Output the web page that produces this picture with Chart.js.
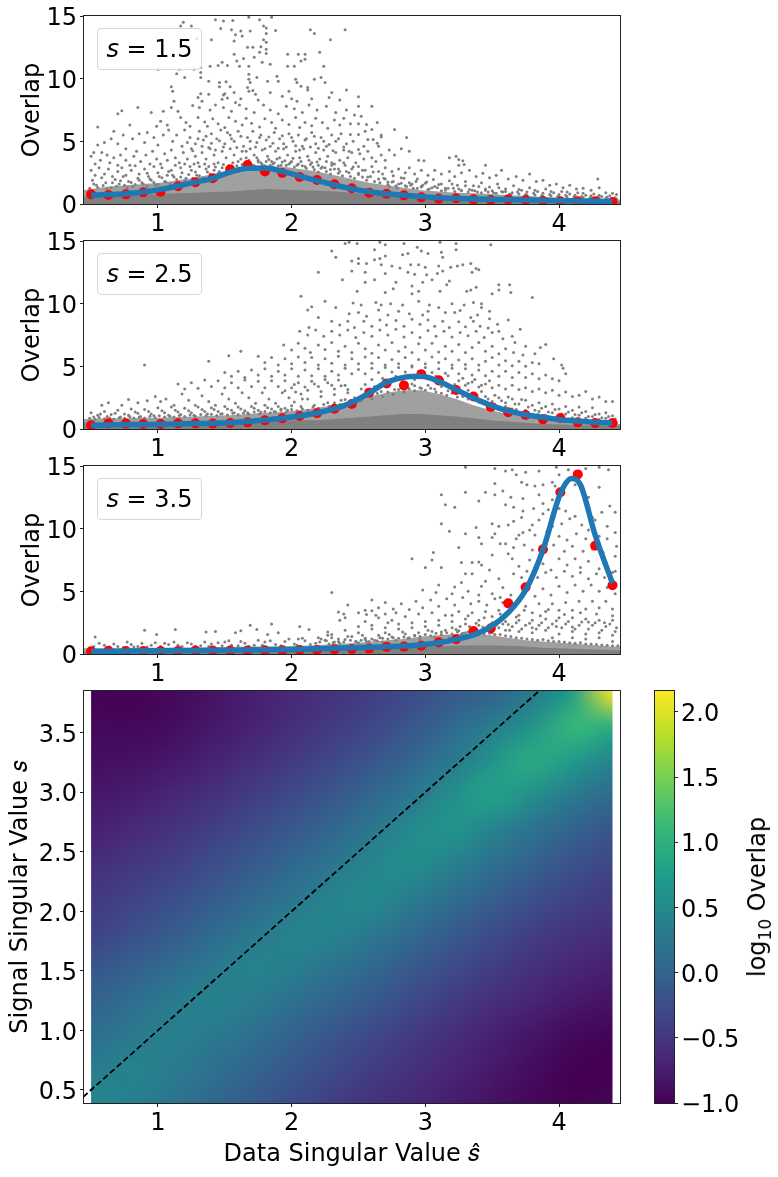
<!DOCTYPE html>
<html>
<head>
<meta charset="utf-8">
<script src="https://cdn.jsdelivr.net/npm/chart.js@4/dist/chart.umd.min.js"></script>
<style>
body { margin: 0; background: white; overflow: hidden; width: 778px; height: 1177px; position: relative; font-family: "DejaVu Sans"; }
canvas { position: absolute; }
.value-box { position: absolute; left: 97px; width: 103px; height: 40px; line-height: 40px; text-align: center; font-size: 24px; border: 1px solid #d6d6d6; border-radius: 4px; background: rgba(255,255,255,0.8); color: black; }
.cbar-label { position: absolute; left: 757px; top: 897px; transform: translate(-50%,-50%) rotate(-90deg); white-space: nowrap; font-size: 24px; color: black; }
.cbar-label sub { font-size: 17px; line-height: 0; }
</style>
</head>
<body>
<canvas id="panel1" width="640" height="244" style="left:0;top:-4px"></canvas>
<canvas id="panel2" width="640" height="244" style="left:0;top:221px"></canvas>
<canvas id="panel3" width="640" height="244" style="left:0;top:446px"></canvas>
<canvas id="heat" width="640" height="506" style="left:0;top:671px"></canvas>
<canvas id="cbar" width="138" height="506" style="left:640px;top:671px"></canvas>
<div class="value-box" style="top:28px"><i>s</i> = 1.5</div>
<div class="value-box" style="top:253px"><i>s</i> = 2.5</div>
<div class="value-box" style="top:478px"><i>s</i> = 3.5</div>
<div class="cbar-label">log<sub>10</sub> Overlap</div>
<script>
const binX = [0.5,0.63,0.76,0.89,1.02,1.15,1.28,1.41,1.54,1.67,1.8,1.93,2.06,2.19,2.32,2.45,2.58,2.71,2.84,2.97,3.1,3.23,3.36,3.49,3.62,3.75,3.88,4.01,4.14,4.27,4.4];

const red1 = [0.77,0.72,0.77,0.93,0.98,1.41,1.73,2.05,2.77,3.11,2.6,2.47,2.15,1.91,1.57,1.25,0.9,0.82,0.69,0.53,0.43,0.45,0.37,0.32,0.37,0.32,0.24,0.21,0.21,0.21,0.16];
const red2 = [0.29,0.45,0.43,0.4,0.4,0.45,0.45,0.43,0.48,0.53,0.69,0.85,1.04,1.25,1.62,1.99,2.9,3.64,3.48,4.36,3.88,3.11,2.6,1.76,1.33,1.12,0.77,0.88,0.53,0.48,0.48];
const red3 = [0.22,0.25,0.24,0.24,0.24,0.24,0.27,0.27,0.27,0.27,0.29,0.29,0.32,0.32,0.37,0.4,0.43,0.57,0.59,0.66,0.93,1.17,1.84,2.05,4.04,5.32,8.35,12.9,14.33,8.64,5.48];

const blue1 = [0.69,0.75,0.82,0.96,1.17,1.44,1.75,2.05,2.55,2.85,2.87,2.6,2.23,1.86,1.52,1.22,0.98,0.82,0.69,0.59,0.5,0.45,0.4,0.37,0.35,0.32,0.29,0.27,0.24,0.21,0.19];
const blue2 = [0.29,0.32,0.35,0.35,0.37,0.4,0.43,0.45,0.5,0.59,0.72,0.85,1.04,1.28,1.62,2.12,2.87,3.72,4.12,4.2,3.8,3.14,2.47,1.89,1.44,1.14,0.93,0.74,0.64,0.53,0.48];
const blue3X = [0.5,0.63,0.76,0.89,1.02,1.15,1.28,1.41,1.54,1.67,1.8,1.93,2.06,2.19,2.32,2.45,2.58,2.71,2.84,2.97,3.1,3.23,3.36,3.49,3.62,3.75,3.88,4.01,4.095,4.16,4.27,4.4];
const blue3 = [0.2,0.22,0.24,0.25,0.26,0.27,0.28,0.29,0.3,0.32,0.34,0.36,0.38,0.42,0.45,0.5,0.53,0.59,0.64,0.74,0.9,1.17,1.52,2.18,3.3,5.1,8.3,12.8,14.0,13.5,9.5,5.64];

// solid and speckled parts of the gray cloud, where single dots can't be told apart
const bandX = [0.44,0.5,0.63,0.76,0.89,1.02,1.15,1.28,1.41,1.54,1.67,1.8,1.93,2.06,2.19,2.32,2.45,2.58,2.71,2.84,2.97,3.1,3.23,3.36,3.49,3.62,3.75,3.88,4.01,4.14,4.27,4.4,4.46];
const solid1 = [0.6,0.6,0.65,0.7,0.75,0.8,0.85,0.9,0.95,1,1.1,1.2,1.15,1.1,1.05,1,0.9,0.75,0.7,0.65,0.6,0.55,0.5,0.45,0.4,0.38,0.35,0.3,0.28,0.25,0.22,0.2,0.2];
const speck1 = [1.1,1.2,1.4,1.5,1.6,1.7,1.9,2.1,2.4,2.6,2.9,3,3,2.8,2.6,2.3,2,1.7,1.5,1.3,1.1,1,0.9,0.85,0.8,0.7,0.65,0.55,0.5,0.45,0.4,0.35,0.35];
const solid2 = [0.5,0.5,0.5,0.5,0.5,0.5,0.5,0.55,0.55,0.6,0.6,0.65,0.65,0.7,0.7,0.8,0.9,1,1.1,1.2,1.2,1.1,1,0.85,0.7,0.6,0.5,0.4,0.35,0.3,0.28,0.25,0.25];
const speck2 = [0.8,0.8,0.85,0.85,0.9,0.9,0.95,1,1.05,1.1,1.2,1.3,1.35,1.5,1.7,1.9,2.2,2.6,2.9,3.1,3.1,2.8,2.4,1.9,1.5,1.2,1,0.8,0.65,0.55,0.45,0.4,0.4];
const solid3 = [0.15,0.15,0.18,0.2,0.2,0.22,0.22,0.25,0.25,0.25,0.28,0.28,0.3,0.3,0.32,0.35,0.38,0.4,0.45,0.5,0.55,0.6,0.65,0.7,0.7,0.65,0.6,0.5,0.45,0.4,0.35,0.3,0.3];
const speck3 = [0.45,0.45,0.45,0.45,0.5,0.5,0.5,0.5,0.55,0.55,0.6,0.6,0.6,0.65,0.7,0.8,0.85,0.95,1.1,1.2,1.4,1.5,1.6,1.6,1.5,1.3,1.1,1,0.9,0.8,0.7,0.6,0.6];

// gray dots, x,y,x,y,...
const dots1 = [
1.43,14.7,1.49,14.6,1.56,14.65,1.68,14.9,1.76,14.7,1.85,14.9,1.19,14.5,1.17,14.2,1.25,14.2,1.47,14,1.55,13.9,1.62,13.8,1.69,13.8,1.79,14.2,1.81,14.05,1.88,13.85,1.81,13.6,2.14,13.9,2.17,13.6,2.4,13.9,1.58,13.5,1.63,13.4,1.29,13.2,1.4,13.1,1.57,13,1.79,13.1,1.81,12.9,2.29,13.1,1.67,12.5,1.71,12.5,1.77,12.55,1.81,12.35,2.21,12.1,1.57,11.95,1.64,11.6,1.72,11.7,1.76,12.1,1.81,12,1.97,11.95,2.05,11.95,2.1,11.95,2.07,11.4,2.1,11.55,1.48,11.3,1.59,11.4,1.39,11,1.45,11.05,1.52,11.05,1.61,11,1.68,11,1.78,11.3,1.84,11.15,1.97,11,2.02,11,2.24,11,1,10.75,1.16,10.75,1.27,10.75,1.32,10.9,1.14,10.4,1.32,10.5,1.2,10.1,1.68,10.35,1.74,10.1,1.89,10.2,2.17,9.95,2.22,10.1,1.32,10.1,1.38,9.8,1.46,9.7,1.51,9.75,1.68,9.95,1.69,9.7,1.82,9.8,1.9,9.8,2.03,9.95,2.04,9.7,2.25,9.7,
1.1,9.35,1.46,9.35,1.54,9.35,1.67,9.3,1.68,9,2.12,9.3,2.07,9.4,2.12,9.1,1.11,9,1.32,8.8,1.38,8.75,1.49,8.7,1.5,8.8,1.57,8.9,1.73,8.75,1.71,9.05,1.84,8.9,1.98,9,2.3,8.9,2.41,9.1,1.12,8.2,1.3,8.5,1.33,8.2,1.48,8.35,1.52,8.45,1.58,8.1,1.62,8.4,1.75,8.3,1.93,8.6,2,8.4,2.04,8.2,2.15,8.4,2.28,8.5,2.36,8.3,2.5,8.55,0.85,7.7,0.73,7.45,0.7,7.2,0.95,7.3,1.04,7.4,1.1,7.7,1.15,7.4,1.26,7.85,1.31,7.7,1.39,7.5,1.43,7.9,1.49,7.7,1.55,7.4,1.61,7.9,1.66,7.6,1.72,7.3,1.79,7.9,1.84,7.5,1.9,7.2,1.96,7.8,2.02,7.6,2.08,7.3,2.13,7.9,2.19,7.5,2.26,7.8,2.33,7.3,2.41,7.5,2.5,7.8,2.6,7.8,2.47,7.1,
0.55,6.15,0.79,6.3,0.67,5.8,1.02,6.6,0.99,6.2,1.07,6.3,1.17,6.9,1.21,6.5,1.24,6.2,1.3,6.9,1.35,6.55,1.37,6.2,1.41,6.8,1.45,6.4,1.5,6.1,1.53,6.9,1.58,6.6,1.63,6.3,1.66,6.85,1.7,6.45,1.76,6.15,1.8,6.8,1.85,6.5,1.88,6.05,1.93,6.7,1.98,6.35,2.03,6.9,2.06,6.1,2.1,6.5,2.15,6.25,2.18,6.85,2.23,6.5,2.27,6.05,2.32,6.7,2.36,6.3,2.39,6.85,2.44,6.4,2.52,7,2.5,6.4,2.56,6.35,2.64,6.5,
0.52,4.1,0.58,4.1,0.6,4.9,0.55,4.7,0.65,5.2,0.7,4.8,0.74,5.5,0.76,4.4,0.81,5.2,0.86,5.6,0.9,4.9,0.92,5.7,0.97,5.3,1,4.7,1.04,5.5,1.08,5.9,1.11,5,1.14,5.5,1.18,4.6,1.2,5.9,1.24,5.3,1.28,4.8,1.31,5.8,1.34,5.1,1.38,4.5,1.4,5.6,1.44,5.2,1.47,5.9,1.5,4.8,1.54,5.5,1.57,5,1.6,5.8,1.64,4.6,1.67,5.3,1.71,5.8,1.74,4.9,1.77,5.5,1.81,5.1,1.84,4.6,1.87,5.7,1.91,5.2,1.94,4.8,1.98,5.6,2.01,5,2.05,5.5,2.08,4.6,2.11,5.2,2.15,5.7,2.18,4.8,2.22,5.3,2.26,4.6,2.3,5.5,2.33,5,2.37,5.6,2.41,4.8,2.44,5.55,2.5,5.55,2.57,5.15,2.61,5.15,2.67,5.5,2.67,5.35,2.77,5.95,2.86,5.3,2.6,5.95,2.55,5.8,
0.5,3.8,0.53,3.2,0.57,3.5,0.62,3.9,0.64,3.3,0.67,3.7,0.7,3.1,0.72,3.9,0.76,3.5,0.79,3.1,0.82,3.8,0.84,4.2,0.87,3.4,0.91,3.9,0.94,3.2,0.96,4.2,0.99,3.6,1.02,3.2,1.05,4,1.07,3.5,1.1,4.3,1.13,3.7,1.16,3.3,1.19,4.1,1.22,3.6,1.25,4.4,1.28,3.8,1.3,3.3,1.33,4.1,1.36,3.6,1.39,4.4,1.42,3.9,1.45,3.3,1.48,4.2,1.51,3.7,1.54,4.4,1.57,3.9,1.6,3.4,1.63,4.2,1.66,3.7,1.69,4.4,1.72,3.9,1.75,3.5,1.78,4.3,1.82,3.8,1.85,3.4,1.88,4.2,1.91,3.7,1.94,4.4,1.97,3.9,2,3.4,2.03,4.2,2.06,3.7,2.09,4.4,2.12,3.8,2.15,3.3,2.18,4.1,2.21,3.6,2.24,4.3,2.27,3.8,2.3,3.3,2.33,4.1,2.36,3.5,2.39,4.3,2.42,3.7,2.45,4.1,2.48,3.3,2.51,4,2.54,3.6,2.57,4.2,2.6,3.7,2.64,4.85,2.65,4.6,2.63,3.4,2.67,3.9,2.7,3.5,2.73,4.3,2.77,3.9,2.82,4.4,2.88,4.2,2.95,3.5,2.99,3.45,3.18,3.7,3.23,3.8,3.25,3.55,3.28,3.45,3.25,3.1,3.29,3.15,3.45,3.1,
0.5,2.7,0.53,2.3,0.56,2.9,0.6,2.4,0.63,2.8,0.66,2.2,0.7,2.6,0.73,2.9,0.76,2.3,0.8,2.7,0.83,3.05,0.86,2.4,0.9,2.8,0.93,2.2,0.97,3,1,2.5,1.03,2.9,1.07,2.3,1.1,2.7,1.13,3.1,1.17,2.9,1.2,3.2,1.24,3,1.27,3.2,1.31,3,1.35,3.2,1.38,3,1.42,3.2,2.2,3.1,2.25,2.9,2.3,3.1,2.35,2.8,2.4,3.1,2.45,2.8,2.5,3,2.55,2.7,2.6,3,2.65,2.6,2.7,2.9,2.75,2.6,2.8,2.8,2.85,2.5,2.88,2.9,2.92,2.4,2.97,2.7,3.02,2.3,3.07,2.7,3.12,2.4,3.18,2.6,3.22,2.2,3.27,2.5,3.33,2.7,3.38,2.2,3.43,2.45,3.48,2.1,3.53,2.3,3.57,2.7,3.62,2,3.68,2.2,3.73,1.9,3.78,2.4,3.83,1.8,3.88,1.9,3.93,1.5,3.98,1.6,4.03,1.3,4.08,1.5,4.13,1.2,4.18,1.25,4.24,1.1,4.29,2,4.3,1.3,4.35,0.9,4.4,0.85,4.43,0.75,
2.7,2,2.76,1.8,2.82,2.1,2.88,1.7,2.94,2,3,1.65,3.06,1.95,3.12,1.6,3.18,1.85,3.24,1.5,3.3,1.8,3.36,1.45,3.42,1.7,3.48,1.35,3.54,1.6,3.6,1.2,3.66,1.45,3.72,1.1,3.78,1.3,3.84,1,3.9,1.2,3.96,0.9,4.02,1,4.08,0.8,4.14,0.9,4.2,0.7,4.26,0.8,4.32,0.6,4.38,0.65,
2.73,1.4,2.79,1.3,2.85,1.45,2.91,1.25,2.97,1.4,3.03,1.2,3.09,1.3,3.15,1.1,3.21,1.25,3.27,1.05,3.33,1.15,3.39,0.95,3.45,1.1,3.51,0.9,3.57,1,3.63,0.8,3.69,0.95,3.75,0.75,3.81,0.85,3.87,0.65,3.93,0.75,3.99,0.6,4.05,0.7,4.11,0.55,4.17,0.6,4.23,0.5,4.29,0.55,4.35,0.45,
0.51,1.9,0.54,1.5,0.58,2.1,0.61,1.7,0.65,1.3,0.68,1.95,0.71,1.6,0.74,2.2,0.78,1.8,0.81,1.4,0.85,2.05,0.88,1.7,0.92,2.45,0.95,1.9,0.98,1.5,1.01,2.2,1.05,1.8,1.08,2.6,1.12,2.15,1.15,1.7,1.18,2.5,1.21,2.05,1.25,2.7,1.29,2.3,1.32,1.9,1.36,2.8,1.39,2.4,1.43,2.95,1.46,2.6,1.49,3.15,1.53,2.85,1.56,3.3,1.59,3.05,1.62,3.6,1.65,3.25,1.68,3.5,1.71,3.1,1.74,3.7,1.77,3.3,1.8,3.05,1.83,3.55,1.86,3.2,1.89,3.6,1.92,3.1,1.95,3.45,1.98,3.2,2.01,3.65,2.04,3.1,2.07,3.4,2.1,3,2.13,3.5,2.16,2.95,2.19,3.35,2.22,2.85,2.26,3.4,2.29,2.75,2.32,3.2,2.36,2.6,2.39,3.3,2.43,2.5,2.46,2.95,2.5,2.35,2.53,2.7,2.57,2.15,2.61,2.55,2.65,2,2.68,2.4,2.72,1.75,2.76,2.25,2.8,1.6,2.84,2.05,2.89,1.5,2.93,1.8,2.97,1.35,3.01,1.75,3.05,1.3,3.1,1.55,3.15,1.25,3.2,1.6,3.25,1.2,3.3,1.45,3.35,1.1,3.4,1.4,3.45,1.2,3.5,1.05,3.55,1.3,3.6,1,3.65,0.9,3.7,1.15,3.76,0.95,3.82,1.1,3.88,0.85,3.94,1,4,0.75,4.06,0.95,4.12,0.7,4.18,0.85,4.24,0.65,4.3,0.7,4.36,0.55,4.42,0.5,
0.49,1.25,0.52,1.6,0.55,1.32,0.59,1.48,0.62,1.2,0.66,1.7,0.69,1.42,0.72,1.85,0.75,1.5,0.77,1.3,0.8,1.72,0.83,1.55,0.86,1.9,0.89,1.6,0.92,1.42,0.94,2,0.97,1.72,1,1.55,1.03,2.1,1.06,1.75,1.09,1.6,1.11,2.3,1.14,1.95,1.17,2.15,1.2,1.85,1.23,2.35,1.26,2.05,1.28,2.55,1.31,2.25,1.34,2.1,1.37,2.55,1.4,2.3,1.42,2.7,1.45,2.45,1.48,2.9,1.51,2.55,1.54,3,1.57,2.75,1.6,2.6,1.63,3.15,1.66,2.95,1.69,3.25,1.72,3.05,1.75,3.35,1.78,3.15,1.81,3.4,1.84,3.1,1.87,3.3,1.9,3.05,1.93,3.35,1.96,3.1,1.99,3.3,2.02,2.95,2.05,3.2,2.08,3.05,2.11,2.85,2.14,3.15,2.17,2.75,2.2,2.55,2.23,2.95,2.26,2.6,2.29,2.4,2.32,2.8,2.35,2.45,2.38,2.25,2.41,2.6,2.44,2.2,2.47,2.05,2.5,2.45,2.53,2.15,2.56,1.9,2.59,2.2,2.62,1.8,2.66,1.7,2.69,2.05,2.72,1.55,2.75,1.75,2.78,1.45,2.82,1.65,2.86,1.4,2.9,1.6,2.94,1.25,2.98,1.5,3.02,1.15,3.07,1.4,3.12,1.05,3.17,1.25,3.22,1,3.27,1.1,3.32,0.95,3.37,1.05,3.42,0.9,3.47,0.95,3.53,0.85,3.58,0.95,3.64,0.75,3.7,0.8,3.76,0.7,3.82,0.72,3.88,0.6,3.94,0.65,4,0.55,4.06,0.58,4.12,0.5,4.18,0.52,4.24,0.45,4.3,0.46,4.36,0.4,4.43,0.4,
1.55,5.2,1.59,4.5,1.62,5.4,1.66,4.2,1.69,5,1.73,4.55,1.76,5.3,1.8,4.4,1.83,5.35,1.86,4.85,1.9,4.45,1.93,5.45,1.96,4.55,2,5.3,2.03,4.65,2.06,4.3,2.1,5.1,2.14,4.55,2.17,5.4,2.2,4.45,2.24,5,2.28,4.75,2.31,4.25,2.35,5.2,2.39,4.55,2.43,4.2,2.46,5,2.5,4.35,2.54,4.6,1.22,4.9,1.26,4.25,1.3,5.2,1.33,4.6,1.36,5.4,1.4,4.85,1.43,4.3,1.46,5.05,1.49,4.55,1.52,5.7
];
const dots2 = [
2.43,14.9,2.49,14.8,2.66,14.9,2.7,14.7,2.84,14.8,2.94,14.5,3.11,14.9,3.23,14.8,3.49,14.7,2.97,14.2,3.02,14,2.83,13.9,2.87,14,3.12,14.1,3.23,14.3,2.66,13.6,2.62,14.3,2.5,13.6,2.62,13.5,2.7,13.8,2.45,13.4,2.5,13.2,3.13,13.7,2.56,13.2,2.67,13.1,2.75,13,2.81,12.85,2.89,13.1,2.95,13.1,3,12.9,3.1,13,3.19,12.9,3.24,13,3.28,13.1,3.38,12.8,3.34,13.2,2.45,12.6,2.55,12.5,2.7,12.4,2.87,12.5,2.92,12.35,3.01,12.3,3.09,12.4,3.13,12.6,3.35,12.5,3.4,12.7,2.33,13.7,2.3,14.2,2.4,14.8,2.2,12.5,3.18,11.8,2.38,11.9,2.62,11.9,2.55,11.7,2.78,11.7,2.9,11.4,2.98,11.7,3.05,11.9,3.16,11.5,3.34,11.1,3.38,11.3,3.55,11.5,3.55,11.1,3.63,11.5,2.49,11,2.7,10.9,2.76,11.2,2.9,10.8,2.95,11,3.11,11,3.31,11,3.5,10.8,3.64,10.9,3.8,10.5,2.07,10.6,2.25,10.2,2.15,9.75,2.12,9.5,2.33,9.7,2.46,10.05,2.52,9.9,2.63,10.1,2.67,9.9,2.74,10,2.83,9.9,2.95,10.2,3.03,9.9,3.1,9.7,3.2,10,3.29,9.9,3.36,10.1,3.42,9.7,3.42,10,2.5,9.3,2.43,9.2,2.56,9,2.65,9.5,2.72,9.1,2.8,9.4,2.88,9.2,2.98,9.1,3.02,9.4,3.15,9.3,3.22,9.3,3.26,9.45,3.34,8.9,3.39,9.1,3.48,8.8,3.48,9.4,
2.3,8.6,2.36,8.3,2.13,8.1,2.2,8.9,2.42,8.6,2.47,8.1,2.54,8.6,2.6,8.2,2.66,8.7,2.71,8.3,2.78,8.65,2.84,8.2,2.9,8.75,2.96,8.35,3.02,8.7,3.07,8.2,3.13,8.6,3.18,8.1,3.25,8.55,3.3,8.15,3.36,8.6,3.41,8.2,3.47,8.05,3.54,8.35,3.62,8.7,3.71,7.95,3.55,7.8,3.65,7.4,
2.06,7.8,2.12,7.5,2.18,7.9,2.24,7.4,2.3,7.8,2.36,7.5,2.42,7.9,2.48,7.3,2.54,7.7,2.6,7.4,2.66,7.9,2.72,7.5,2.78,7.95,2.84,7.35,2.9,7.7,2.96,7.3,3.02,7.85,3.08,7.4,3.14,7.8,3.2,7.35,3.26,7.7,3.32,7.45,3.38,7.8,3.44,7.3,3.5,7.7,3.58,7.2,3.67,6.9,3.75,6.6,3.9,6.75,3.86,6.5,
1.94,6.7,2,6.3,2.05,6.85,2.1,6.45,2.14,6.1,2.2,6.7,2.25,6.35,2.3,6.9,2.35,6.2,2.4,6.6,2.45,6.1,2.5,6.85,2.55,6.4,2.6,6.05,2.65,6.7,2.7,6.3,2.75,6.9,2.8,6.2,2.85,6.55,2.9,6.1,2.95,6.8,3,6.3,3.05,6.85,3.1,6.15,3.15,6.6,3.2,6.2,3.25,6.75,3.3,6.1,3.35,6.5,3.4,6.9,3.45,6.2,3.5,6.6,3.55,6,3.6,6.4,3.66,6.1,3.73,5.9,3.82,6,1.62,6.2,1.53,5.85,1.38,5.4,0.9,5.1,
1.75,5.8,1.8,5.3,1.85,5.7,1.9,5.1,1.95,5.6,2,5.2,2.05,5.75,2.1,5.3,2.15,5.7,2.2,5.1,2.25,5.6,2.3,5.25,2.35,5.8,2.4,5.1,2.45,5.6,2.5,5.2,2.55,5.75,2.6,5.25,2.65,5.7,2.7,5.1,2.75,5.55,2.8,5.2,2.85,5.7,2.9,5.05,2.95,5.55,3,5.2,3.05,5.75,3.1,5.3,3.15,5.6,3.2,5.1,3.25,5.5,3.3,5.15,3.35,5.6,3.4,5.1,3.45,5.4,3.5,5.7,3.55,5.1,3.6,5.45,3.65,5.05,3.7,5.4,3.75,5,3.8,5.3,3.85,5.2,3.96,5.6,4.02,5.1,4.03,4.85,
1.5,4.5,1.55,4.2,1.6,4.6,1.65,4.1,1.7,4.7,1.75,4.3,1.8,4.8,1.85,4.2,1.9,4.6,1.95,4.3,2,4.8,2.05,4.2,2.1,4.7,2.15,4.25,2.2,4.8,2.25,4.2,2.3,4.6,2.35,4.3,2.4,4.85,2.45,4.4,2.5,4.75,2.55,4.4,2.6,4.85,2.65,4.5,2.7,4.9,2.75,4.55,2.8,4.9,2.85,4.55,2.9,4.95,2.95,4.6,3,4.9,3.05,4.5,3.1,4.8,3.15,4.45,3.2,4.85,3.25,4.4,3.3,4.8,3.35,4.3,3.4,4.7,3.45,4.25,3.5,4.6,3.55,4.2,3.6,4.6,3.65,4.1,3.7,4.5,3.75,4.1,3.8,4.4,3.85,4,3.9,4.3,3.95,4,4,3.85,4.05,4.4,
1.15,3.6,1.2,3.2,1.25,3.7,1.3,3.25,1.35,3.9,1.4,3.4,1.45,3.85,1.5,3.3,1.55,3.7,1.6,3.3,1.65,3.9,1.7,3.4,1.75,3.8,1.8,3.3,1.85,3.85,1.9,3.4,1.95,3.85,2,3.3,2.05,3.7,2.1,3.35,2.15,3.8,2.2,3.4,2.25,3.95,2.3,3.5,2.35,3.9,2.4,3.5,2.7,3.7,2.9,3.6,3.1,3.6,3.25,3.85,3.3,3.5,3.35,3.75,3.4,3.35,3.45,3.6,3.5,3.3,3.55,3.5,3.6,3.2,3.65,3.5,3.7,3.15,3.75,3.3,3.8,3,3.85,3.2,3.9,2.9,3.95,3.1,4,2.7,4.05,2.95,4.1,2.6,4.15,2.7,4.2,3,4.25,2.4,4.3,2.55,4.35,2.2,4.4,2.2,
0.63,2.1,0.58,1.9,0.73,1.9,0.78,2.35,0.85,2.1,0.92,2.25,0.98,2.6,1.02,2.2,1.06,2.4,1.12,1.9,1.18,2.8,1.23,2.3,1.28,1.9,1.33,2.65,1.38,2.2,1.43,1.9,1.48,2.8,1.53,2.4,1.58,2.05,1.63,2.9,1.68,2.5,1.73,2.05,1.78,2.9,1.83,2.4,1.88,2.05,1.93,2.9,1.98,2.5,2.03,2.95,2.08,2.4,3.45,2.6,3.5,2.2,3.55,2.5,3.6,2.1,3.65,2.4,3.7,2,3.75,2.3,3.8,1.9,3.85,2.1,3.9,1.8,3.95,2,4,1.6,4.05,1.8,4.1,1.5,4.15,1.75,4.2,1.4,4.25,1.7,4.3,1.2,4.35,1.3,4.4,1.05,
0.5,1.3,0.55,1.1,0.6,1.4,0.65,1.15,0.7,1.5,0.75,1.2,0.8,1.6,0.85,1.25,0.9,1.55,0.95,1.2,1,1.7,1.05,1.3,1.1,1.75,1.15,1.35,1.2,1.65,1.25,1.3,1.3,1.75,1.35,1.4,1.4,1.7,1.45,1.4,1.5,1.8,1.55,1.5,1.6,1.75,1.65,1.45,1.7,1.8,1.75,1.5,1.8,1.9,1.85,1.6,1.9,1.8,1.95,1.65,2,1.85,3.65,1.6,3.7,1.3,3.75,1.5,3.8,1.2,3.85,1.4,3.9,1.1,3.95,1.3,4,1.05,4.05,1.2,4.1,0.9,4.15,1.1,4.2,0.85,4.25,1,4.3,0.75,4.35,0.85,4.4,0.65,
0.52,0.95,0.57,1.2,0.62,1,0.68,1.25,0.72,0.95,0.78,1.1,0.83,1.35,0.87,1,0.93,1.4,0.97,1.05,1.03,1.45,1.08,1.1,1.13,1.5,1.17,1.15,1.23,1.45,1.27,1.1,1.33,1.55,1.37,1.2,1.42,1.55,1.47,1.2,1.52,1.6,1.57,1.3,1.62,1.6,1.67,1.3,1.72,1.65,1.77,1.35,1.82,1.7,1.87,1.4,1.92,1.6,1.97,1.5,2.02,2.15,2.07,1.8,2.12,2.4,2.17,1.9,2.22,2.6,2.27,2.1,2.32,2.75,2.37,2.3,2.42,2.9,2.47,2.5,2.52,3.2,2.57,2.75,2.62,3.4,2.67,3,2.72,3.45,2.77,3.15,2.82,3.5,2.87,3.3,2.92,3.45,2.97,3.25,3.02,3.5,3.07,3.2,3.12,3.4,3.17,3.05,3.22,3.25,3.27,2.85,3.32,3.1,3.37,2.7,3.42,3,3.47,2.4,3.52,2.7,3.57,2.25,3.62,2.55,3.67,2,3.72,2.35,3.77,1.75,3.82,1.5,3.87,1.65,3.92,1.35,3.97,1.55,4.02,1.2,4.07,1.35,4.12,1.15,4.17,1.3,4.22,1,4.27,1.15,4.32,0.9,4.37,1,4.42,0.8,
0.49,0.85,0.53,0.78,0.56,0.92,0.6,0.82,0.64,0.88,0.67,0.8,0.71,0.9,0.75,0.85,0.79,0.98,0.82,0.88,0.86,0.95,0.9,0.87,0.94,1.02,0.98,0.9,1.01,1.05,1.05,0.95,1.09,1.02,1.12,0.95,1.16,1.08,1.2,1,1.24,1.12,1.28,1.02,1.32,1.15,1.36,1.05,1.4,1.18,1.44,1.08,1.48,1.22,1.52,1.12,1.56,1.25,1.6,1.15,1.64,1.28,1.68,1.2,1.72,1.35,1.76,1.22,1.8,1.4,1.84,1.3,1.88,1.35,1.92,1.5,1.96,1.35,2,1.55,2.04,1.45,2.08,1.62,2.12,1.5,2.16,1.75,2.2,1.65,2.24,1.95,2.28,1.8,2.32,2.1,2.36,1.95,2.4,2.35,2.44,2.1,2.48,2.4,2.52,2.25,2.56,2.6,2.6,2.4,2.64,2.85,2.68,2.6,2.72,2.95,2.76,2.75,2.8,3.15,2.84,2.95,2.88,3.2,2.92,3.05,2.96,3.3,3,3.1,3.04,3.25,3.08,2.95,3.12,2.85,3.16,2.7,3.2,2.85,3.24,2.55,3.28,2.6,3.32,2.4,3.36,2.35,3.4,2.15,3.44,2.2,3.48,1.95,3.52,2,3.56,1.75,3.6,1.8,3.64,1.45,3.68,1.55,3.72,1.25,3.76,1.3,3.8,1.1,3.84,1.15,3.88,0.95,3.92,1,3.96,0.85,4,0.9,4.04,0.75,4.08,0.8,4.12,0.65,4.18,0.7,4.24,0.6,4.3,0.62,4.36,0.52,4.43,0.5,
2.55,3.55,2.6,3.95,2.63,3.2,2.68,4.05,2.73,3.85,2.78,4.2,2.83,3.85,2.88,4.2,2.92,3.95,2.98,4.4,3.03,4,3.08,4.2,3.13,3.9,3.17,4.25,3.22,3.55,3.28,4.05,3.32,3.65,3.37,3.95,3.42,3.5,3.48,3.85,1.95,3.05,2.02,3.55,2.07,2.8,2.12,3.1,2.17,3.6,2.22,3,2.27,3.7,2.32,3.2,2.37,3.45,2.42,3.15
];
const dots3 = [
0.53,1.35,0.9,1.9,1.13,1.95,1.36,1.75,1.43,1.8,0.99,1.55,1.58,1.7,1.62,1.85,1.69,2.3,1.74,1.95,1.85,2.4,2.06,2.2,2.36,2.7,2.13,1.95,2.05,1.2,1.9,1.7,1.82,1.55,2.22,1.2,2.27,1.75,2.27,1.5,
2.39,3.2,2.42,3.9,2.3,4.9,2.35,3.35,2.4,2.9,2.5,3.3,2.56,3.15,2.55,3.5,2.6,3.45,2.63,3.1,2.7,3.2,2.72,2.5,2.78,3.3,2.9,7.6,3.06,8.1,3.05,7.5,3,6.9,3.35,6.4,3.12,6.9,3.27,7.3,3.4,7.35,3.27,5.7,3.22,5.35,3.5,9.3,3.56,8.8,3.62,10.3,3.7,9.5,3.78,9.9,3.6,8.8,3.62,8,3.5,7.9,3.35,7.3,3.3,6.4,3.45,5.8,3.55,6,3.58,5.3,3.42,5.4,3.32,5,3.2,4.8,3.1,5.5,3.08,4.9,2.98,5.1,3.4,4.7,3.5,4.8,3.56,4.5,
3.3,14.9,3.52,14.8,3.6,14.6,3.65,14.7,3.68,14.3,3.75,14.5,3.85,14.6,3.98,14.9,4.07,14.7,4.2,14.8,4.3,14.9,4.37,14.7,4,14.3,3.52,13.6,3.72,13.7,3.76,13.5,3.82,13.4,3.88,13.5,3.95,13.7,3.97,13.4,4.3,13.3,3.12,12.7,3.3,12.9,3.45,12.9,3.52,12.7,3.58,13,3.64,12.5,3.73,12.4,3.85,12.7,3.88,12,3.95,12.3,4,11.6,4.12,13.5,4.2,12.1,4.22,12.5,4.38,11.8,3.15,11.9,3.22,11.7,3.4,12.2,3.6,11.9,3.66,11.7,3.73,11.4,3.81,11.6,3.88,11.2,3.92,11.5,4.05,11.4,4.12,11,4.25,10.9,4.32,11.3,4.42,11.3,
3.12,10.4,3.18,9.8,3.3,9.6,3.38,10.1,3.5,10.4,3.55,10.2,3.66,10.6,3.72,10.9,3.8,10.3,3.85,10.7,3.95,10.2,4.02,10.4,4.08,10.8,4.17,10.3,4.22,9.9,4.27,10.7,4.36,10.2,4.42,9.7,3.4,9.3,3.52,9.6,3.68,9.2,3.73,9.7,3.82,9.5,3.91,9.8,4,9.4,4.06,9.1,4.13,9.6,4.2,9.2,4.3,9.4,4.36,9.2,4.43,8.6,3.25,8.5,3.42,8.8,3.66,8.5,3.74,8.7,3.8,8.3,3.96,8.7,4.04,8.2,4.1,8.6,4.18,8.2,4.25,8.4,4.33,8.1,4.42,7.8,
3.42,7.1,3.48,6.7,3.65,7.6,3.7,7,3.78,7.5,3.82,6.8,3.88,7.2,3.94,6.7,4,7.6,4.06,7.1,4.12,7.6,4.16,6.9,4.22,7.4,4.3,6.8,4.35,7.3,4.42,6.6,3.66,6.4,3.72,6.1,3.76,6.6,3.84,6.1,3.9,6.5,3.98,6.1,4.04,6.6,4.1,6.2,4.16,6.5,4.22,6,4.28,6.4,4.34,6.1,4.4,6.5,
2.6,4.3,2.65,3.7,2.7,4.1,2.76,3.6,2.82,4,2.88,3.55,2.93,4.2,2.98,3.7,3.04,4.3,3.1,3.8,3.16,4.4,3.22,3.9,3.28,4.5,3.34,4,3.4,4.2,3.46,3.9,3.52,4.4,3.58,4.1,3.64,4.7,3.7,4.3,3.76,5.1,3.82,4.6,3.88,5.2,3.94,4.7,4,5.4,4.06,4.9,4.12,5.5,4.18,5,4.24,5.5,4.3,5,4.36,5.3,4.42,4.8,
2.5,2.2,2.55,2.6,2.6,2.3,2.65,2.9,2.7,2.1,2.75,2.7,2.8,2.4,2.85,3,2.9,2.5,2.95,3.2,3,2.6,3.05,3.3,3.1,2.7,3.15,3.1,3.2,2.6,3.25,3.4,3.3,2.8,3.35,3.3,3.4,2.7,3.45,3.4,3.5,3,3.55,3.5,3.6,3,3.65,3.7,3.7,3.1,3.75,3.8,3.8,3.3,3.85,4,3.9,3.4,3.95,4,4,3.5,4.05,4.1,4.1,3.5,4.15,4.2,4.2,3.6,4.25,4.2,4.3,3.7,4.35,4.2,4.4,3.6,
2.3,1.55,2.35,1.2,2.4,1.9,2.45,1.4,2.5,1.7,2.55,1.25,2.6,2,2.65,1.5,2.7,1.7,2.75,1.35,2.8,2,2.85,1.6,2.9,2.1,2.95,1.7,3,2.2,3.05,1.8,3.1,2.3,3.15,1.9,3.2,2.1,3.25,1.85,3.3,2.4,3.35,2,3.4,2.3,3.45,2,3.5,2.5,3.55,2.1,3.6,2.6,3.65,2.2,3.7,2.7,3.75,2.3,3.8,2.7,3.85,2.3,3.9,2.8,3.95,2.4,4,2.9,4.05,2.4,4.1,2.9,4.15,2.3,4.2,2.8,4.25,2.3,4.3,2.7,4.35,2.2,4.4,2.7,4.43,2.1,
3.3,1.7,3.4,1.8,3.5,1.7,3.6,1.9,3.7,1.8,3.8,1.7,3.9,1.9,4,1.6,4.1,1.8,4.2,1.6,4.3,1.7,4.4,1.5,4.1,1.3,4.2,1.2,4.3,1.3,4.4,1,3.95,1.3,
0.6,0.7,0.7,0.6,0.8,0.75,0.85,0.6,0.95,0.7,1.05,0.85,1.15,0.7,1.25,0.8,1.32,0.65,1.4,0.8,1.5,0.95,1.55,0.7,1.65,0.85,1.72,0.7,1.8,0.95,1.88,0.75,1.95,1,2.02,0.8,2.1,1.05,2.18,0.85,2.25,1.1,2.32,0.95,2.4,1.15,2.48,1,2.55,1.15,2.62,1.1,
0.52,0.6,0.56,0.85,0.64,0.55,0.67,0.8,0.74,0.5,0.77,0.95,0.82,0.55,0.88,0.85,0.92,0.55,0.98,0.9,1.02,0.6,1.08,0.75,1.12,0.95,1.18,0.6,1.22,0.9,1.28,0.6,1.35,0.95,1.38,0.6,1.45,0.9,1.48,0.65,1.53,1.05,1.6,0.65,1.62,1,1.68,0.6,1.75,1.1,1.78,0.7,1.84,1.05,1.92,0.65,1.98,1.2,2.04,0.7,2.08,1.25,2.14,0.75,2.2,1.3,2.28,0.8,2.3,1.3,2.36,0.85,2.42,1.4,2.5,0.9,2.53,1.5,2.58,1,2.66,1.3,2.68,0.95,2.73,1.55,2.78,1.1,2.83,1.75,2.87,1.25,2.92,1.45,2.96,1.15,3.02,1.9,3.07,1.35,3.12,1.75,3.18,1.3,3.23,1.95,3.27,1.6,3.33,2.2,3.38,1.75,3.43,2.15,3.48,1.8,3.53,2.3,3.58,2.4,3.63,1.9,3.68,2.5,3.72,2,3.78,2.45,3.83,2,3.87,2.5,3.92,2.1,3.98,2.65,4.02,2.1,4.07,2.6,4.12,2,4.17,2.55,4.22,2,4.27,2.5,4.32,1.9,4.38,2.4,4.42,1.8,
2.21,0.95,2.26,1.05,2.31,0.9,2.35,1,2.39,0.95,2.44,1.1,2.48,1,2.52,1.1,2.56,1,2.6,1.2,2.64,1.05,2.68,1.25,2.72,1.2,2.76,1.3,2.8,1.25,2.84,1.35,2.88,1.3,2.92,1.5,2.96,1.4,3,1.55,3.04,1.45,3.08,1.65,3.12,1.55,3.16,1.7,3.2,1.6,3.24,1.75,3.28,1.65,3.32,1.75,3.36,1.65,3.4,1.7,3.44,1.6,3.48,1.65,3.52,1.55,3.56,1.55,3.6,1.45,3.64,1.4,3.68,1.3,3.72,1.25,3.76,1.2,3.8,1.15,3.84,1.1,3.88,1.15,3.92,1.05,3.96,1,4,1,4.04,0.95,4.08,0.9,4.12,0.85,4.16,0.9,4.2,0.8,4.24,0.8,4.28,0.75,4.32,0.72,4.36,0.7,4.4,0.65,4.44,0.65,
3.2,3.1,3.26,2.2,3.32,3.05,3.38,2.45,3.44,2.9,3.5,2.2,3.56,3.2,3.62,2.35,3.68,2.95,3.74,3.5,3.8,2.1,3.86,3.05,3.92,3.55,3.98,2.2,4.04,3.15,4.1,2.15,4.16,3.3,4.22,2.55,4.28,3.2,4.34,2.5,4.4,3.05
];

// x and y of the grid, then log10 overlap per row, low s first
const heatX = [0.5,0.8,1.1,1.4,1.7,2.0,2.3,2.6,2.9,3.2,3.5,3.8,4.1,4.4];
const heatY = [0.39,0.6775,0.965,1.2525,1.54,1.8275,2.115,2.4025,2.69,2.9775,3.265,3.5525,3.84];
const heatRows = [
[0.45,0.36,0.22,0.05,-0.1,-0.25,-0.42,-0.55,-0.65,-0.75,-0.85,-0.95,-1,-0.97],
[0.33,0.4,0.32,0.17,0.02,-0.13,-0.28,-0.43,-0.55,-0.67,-0.78,-0.9,-1,-1],
[0.12,0.28,0.38,0.3,0.16,0,-0.15,-0.3,-0.45,-0.58,-0.7,-0.82,-0.93,-0.98],
[-0.02,0.12,0.28,0.4,0.33,0.18,0.03,-0.12,-0.28,-0.44,-0.57,-0.68,-0.78,-0.84],
[-0.17,-0.05,0.1,0.26,0.41,0.36,0.22,0.07,-0.1,-0.26,-0.42,-0.55,-0.66,-0.72],
[-0.38,-0.24,-0.1,0.07,0.24,0.43,0.43,0.28,0.1,-0.08,-0.25,-0.4,-0.52,-0.58],
[-0.47,-0.37,-0.25,-0.1,0.05,0.22,0.42,0.5,0.33,0.14,-0.05,-0.22,-0.36,-0.46],
[-0.6,-0.5,-0.4,-0.26,-0.12,0.04,0.22,0.45,0.55,0.38,0.17,-0.02,-0.2,-0.33],
[-0.72,-0.64,-0.54,-0.42,-0.28,-0.13,0.03,0.24,0.5,0.64,0.42,0.2,0,-0.16],
[-0.8,-0.76,-0.67,-0.56,-0.44,-0.3,-0.14,0.04,0.25,0.55,0.82,0.55,0.3,0.1],
[-0.88,-0.86,-0.8,-0.7,-0.58,-0.46,-0.32,-0.15,0.03,0.28,0.62,0.95,0.72,0.42],
[-0.94,-0.95,-0.9,-0.8,-0.7,-0.58,-0.46,-0.32,-0.14,0.07,0.34,0.62,1.12,0.95],
[-0.98,-1,-0.94,-0.84,-0.74,-0.64,-0.54,-0.42,-0.27,-0.1,0,0.28,0.72,2.15]
];
const diagonal = [0.39,3.86];

const panelXTicks = [1,2,3,4];
const panelYTicks = [0,5,10,15];
const heatYTicks = [0.5,1,1.5,2,2.5,3,3.5];
const cbarTicks = [-1,-0.5,0,0.5,1,1.5,2];
const cbarRange = [-1,2.16];
const viridis = ['#440154','#482878','#3e4989','#31688e','#26828e','#1f9e89','#35b779','#6ece58','#b5de2b','#fde725'];

const tickFont = { family: 'DejaVu Sans', size: 24 };

function pairs(flat) {
    let out = [];
    for (let i = 0; i < flat.length; i += 2) {
        out.push({ x: flat[i], y: flat[i + 1] });
    }
    return out;
}

function zip(xs, ys) {
    return xs.map((x, i) => ({ x: x, y: ys[i] }));
}

function hexToRgb(hex) {
    return [1, 3, 5].map(i => parseInt(hex.substr(i, 2), 16));
}

function viridisColor(v) {
    let t = (v - cbarRange[0]) / (cbarRange[1] - cbarRange[0]);
    t = Math.max(0, Math.min(1, t)) * (viridis.length - 1);
    let i = Math.min(Math.floor(t), viridis.length - 2);
    let a = hexToRgb(viridis[i]);
    let b = hexToRgb(viridis[i + 1]);
    let f = t - i;
    return a.map((c, k) => Math.round(c + (b[k] - c) * f));
}

const framePlugin = {
    id: 'frame',
    // matplotlib centres the digits lower than canvas "middle" does
    beforeDraw(chart) {
        chart.scales.y.getLabelItems().forEach(item => { item.options.translation[1] += 3; });
    },
    afterDraw(chart) {
        const a = chart.chartArea;
        const ctx = chart.ctx;
        ctx.save();
        ctx.strokeStyle = '#222';
        ctx.lineWidth = 1;
        ctx.strokeRect(a.left - 0.5, a.top - 0.5, a.width + 1, a.height + 1);
        ctx.restore();
    }
};

const heatPlugin = {
    id: 'heatImage',
    beforeDatasetsDraw(chart) {
        const xs = chart.scales.x;
        const ys = chart.scales.y;
        const ctx = chart.ctx;
        const off = document.createElement('canvas');
        off.width = heatX.length;
        off.height = heatY.length;
        const octx = off.getContext('2d');
        const img = octx.createImageData(off.width, off.height);
        heatRows.forEach((row, r) => {
            row.forEach((v, c) => {
                const rgb = viridisColor(v);
                const p = ((off.height - 1 - r) * off.width + c) * 4;
                img.data[p] = rgb[0];
                img.data[p + 1] = rgb[1];
                img.data[p + 2] = rgb[2];
                img.data[p + 3] = 255;
            });
        });
        octx.putImageData(img, 0, 0);
        const dx = heatX[1] - heatX[0];
        const dy = heatY[1] - heatY[0];
        const left = xs.getPixelForValue(heatX[0]);
        const right = xs.getPixelForValue(heatX[heatX.length - 1]);
        ctx.save();
        ctx.beginPath();
        ctx.rect(left, chart.chartArea.top, right - left, chart.chartArea.height);
        ctx.clip();
        ctx.imageSmoothingEnabled = true;
        ctx.imageSmoothingQuality = 'high';
        const px0 = xs.getPixelForValue(heatX[0] - dx / 2);
        const px1 = xs.getPixelForValue(heatX[heatX.length - 1] + dx / 2);
        const py0 = ys.getPixelForValue(heatY[heatY.length - 1] + dy / 2);
        const py1 = ys.getPixelForValue(heatY[0] - dy / 2);
        ctx.drawImage(off, px0, py0, px1 - px0, py1 - py0);
        ctx.restore();
    }
};

function axisGrid() {
    return { display: true, drawOnChartArea: false, drawTicks: true, tickLength: 4, tickWidth: 1, color: '#222' };
}

function fixedTicks(list) {
    return scale => { scale.ticks = list.map(v => ({ value: v })); };
}

function makePanel(id, red, blueXs, blue, solid, speck, dots) {
    new Chart(document.getElementById(id), {
        type: 'scatter',
        data: {
            datasets: [
                { type: 'line', data: zip(blueXs, blue), borderColor: '#1f77b4', borderWidth: 5.5, pointRadius: 0, cubicInterpolationMode: 'monotone', order: 0 },
                { data: zip(binX, red), backgroundColor: '#ff0000', borderWidth: 0, pointRadius: 5, order: 1 },
                { data: pairs(dots), backgroundColor: '#808080', borderWidth: 0, pointRadius: 1.5, order: 2 },
                { type: 'line', data: zip(bandX, solid), borderWidth: 0, pointRadius: 0, fill: 'origin', backgroundColor: '#808080', order: 3 },
                { type: 'line', data: zip(bandX, speck), borderWidth: 0, pointRadius: 0, fill: 'origin', backgroundColor: 'rgba(128,128,128,0.75)', order: 4 }
            ]
        },
        options: {
            responsive: false,
            animation: false,
            layout: { padding: { top: 20, right: 20, left: 0, bottom: 0 } },
            plugins: { legend: { display: false }, tooltip: { enabled: false } },
            scales: {
                x: {
                    type: 'linear', min: 0.447, max: 4.456,
                    afterBuildTicks: fixedTicks(panelXTicks),
                    afterFit: s => { s.height = 36; },
                    border: { display: false },
                    grid: axisGrid(),
                    ticks: { font: tickFont, color: 'black', padding: 2, maxRotation: 0, autoSkip: false, callback: v => v }
                },
                y: {
                    min: 0, max: 15,
                    afterBuildTicks: fixedTicks(panelYTicks),
                    afterFit: s => { s.width = 84; },
                    border: { display: false },
                    grid: axisGrid(),
                    title: { display: true, text: 'Overlap', font: tickFont, color: 'black', padding: 18.6 },
                    ticks: { font: tickFont, color: 'black', padding: 3, autoSkip: false, callback: v => v }
                }
            }
        },
        plugins: [framePlugin]
    });
}

makePanel('panel1', red1, binX, blue1, solid1, speck1, dots1);
makePanel('panel2', red2, binX, blue2, solid2, speck2, dots2);
makePanel('panel3', red3, blue3X, blue3, solid3, speck3, dots3);

new Chart(document.getElementById('heat'), {
    type: 'scatter',
    data: {
        datasets: [
            { type: 'line', data: zip(diagonal, diagonal), borderColor: 'black', borderWidth: 1.8, borderDash: [6, 3], pointRadius: 0 }
        ]
    },
    options: {
        responsive: false,
        animation: false,
        layout: { padding: { top: 20, right: 20, left: 0, bottom: 0 } },
        plugins: { legend: { display: false }, tooltip: { enabled: false } },
        scales: {
            x: {
                type: 'linear', min: 0.447, max: 4.456,
                afterBuildTicks: fixedTicks(panelXTicks),
                afterFit: s => { s.height = 74; },
                border: { display: false },
                grid: axisGrid(),
                title: { display: true, text: 'Data Singular Value 𝑠̂', font: tickFont, color: 'black', padding: 7.6 },
                ticks: { font: tickFont, color: 'black', padding: 2, maxRotation: 0, autoSkip: false, callback: v => v }
            },
            y: {
                min: 0.39, max: 3.85,
                afterBuildTicks: fixedTicks(heatYTicks),
                afterFit: s => { s.width = 84; },
                border: { display: false },
                grid: axisGrid(),
                title: { display: true, text: 'Signal Singular Value 𝑠', font: tickFont, color: 'black', padding: 6.6 },
                ticks: { font: tickFont, color: 'black', padding: 3, autoSkip: false, callback: v => v.toFixed(1) }
            }
        }
    },
    plugins: [heatPlugin, framePlugin]
});

new Chart(document.getElementById('cbar'), {
    type: 'bar',
    data: {
        labels: ['log10 Overlap'],
        datasets: [{
            data: [cbarRange],
            barPercentage: 1,
            categoryPercentage: 1,
            borderWidth: 0,
            backgroundColor: c => {
                const a = c.chart.chartArea;
                if (!a) return '#31688e';
                const g = c.chart.ctx.createLinearGradient(0, a.bottom, 0, a.top);
                viridis.forEach((col, i) => g.addColorStop(i / (viridis.length - 1), col));
                return g;
            }
        }]
    },
    options: {
        responsive: false,
        animation: false,
        layout: { padding: { top: 20, left: 15, right: 0, bottom: 74 } },
        plugins: { legend: { display: false }, tooltip: { enabled: false } },
        scales: {
            x: { display: false },
            y: {
                position: 'right',
                min: cbarRange[0], max: cbarRange[1],
                afterBuildTicks: fixedTicks(cbarTicks),
                afterFit: s => { s.width = 104; },
                border: { display: false },
                grid: axisGrid(),
                ticks: { font: tickFont, color: 'black', padding: 3, autoSkip: false, callback: v => v.toFixed(1).replace('-', '\u2212') }
            }
        }
    },
    plugins: [framePlugin]
});
</script>
</body>
</html>
